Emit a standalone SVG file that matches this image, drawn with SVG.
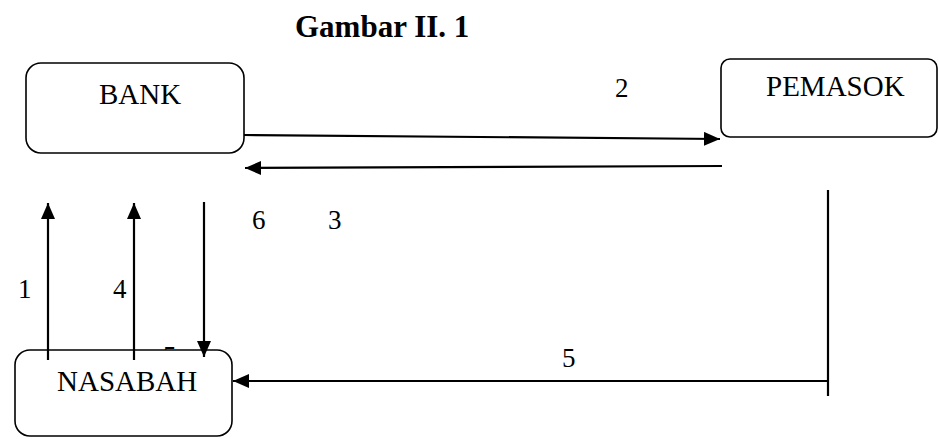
<svg xmlns="http://www.w3.org/2000/svg" width="939" height="439" viewBox="0 0 939 439">
<defs>
<style>
.box{fill:#fff;stroke:#000;stroke-width:1.6}
.t{font-family:"Liberation Serif","Times New Roman",serif;font-size:27px;fill:#000}
.n{font-size:29px}
.c{fill:none;stroke:#000;stroke-width:2.2}
.a{marker-end:url(#ah)}
</style>
<marker id="ah" markerUnits="userSpaceOnUse" markerWidth="17" markerHeight="15" refX="16" refY="7" orient="auto">
<path d="M0,0 L16,7 L0,14 z" fill="#000"/>
</marker>
</defs>
<rect width="939" height="439" fill="#fff"/>
<text x="295" y="37" style="font-family:'Liberation Serif','Times New Roman',serif;font-size:31px;font-weight:bold">Gambar II. 1</text>
<text class="t" x="163" y="365">5</text>
<g id="bank">
<rect class="box" x="26" y="63" width="218" height="90" rx="15"/>
<text class="t n" x="99" y="104">BANK</text>
</g>
<g id="pemasok">
<rect class="box" x="721" y="59" width="216" height="78" rx="9"/>
<text class="t n" x="766" y="96">PEMASOK</text>
</g>
<g id="nasabah">
<rect class="box" x="15" y="350" width="217" height="86" rx="15"/>
<text class="t n" x="57" y="391">NASABAH</text>
</g>
<g id="connectors">
<path class="c a" d="M244,135 L720,139"/>
<path class="c a" d="M722,166 L245,168"/>
<path class="c a" d="M48,360 L48,203"/>
<path class="c a" d="M134,360 L134,203"/>
<path class="c a" d="M204,202 L204,357"/>
<path class="c" d="M828,190 L828,396"/>
<path class="c a" d="M828,381 L233,381"/>
</g>
<g id="labels">
<text class="t" x="18" y="298">1</text>
<text class="t" x="113" y="298">4</text>
<text class="t" x="252" y="229">6</text>
<text class="t" x="328" y="229">3</text>
<text class="t" x="615" y="97">2</text>
<text class="t" x="562" y="367">5</text>
</g>
</svg>
